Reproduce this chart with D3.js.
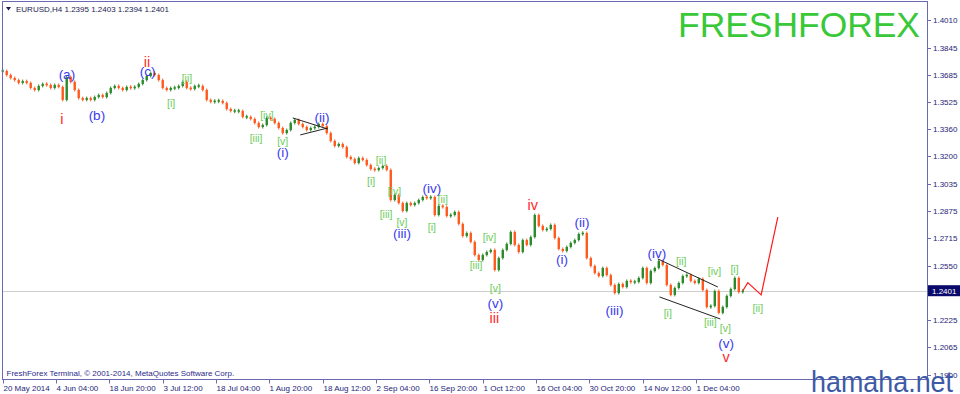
<!DOCTYPE html>
<html><head><meta charset="utf-8">
<script src="https://cdn.jsdelivr.net/npm/d3@7"></script>
<style>
html,body{margin:0;padding:0;background:#fff;}
svg{display:block;}
</style></head>
<body><svg id="c" width="960" height="394"></svg>
<script>
// ---- DATA ----
// EURUSD closes, one sample every 4.8 H4 bars
const closes = [
1.3707,1.3683,1.3665,1.3653,1.3636,1.3647,1.3636,1.3606,1.3594,1.3618,
1.3630,1.3624,1.3606,1.3624,1.3612,1.3535,1.3671,1.3642,1.3594,1.3546,
1.3535,1.3546,1.3535,1.3552,1.3564,1.3552,1.3576,1.3606,1.3618,1.3606,
1.3594,1.3612,1.3606,1.3612,1.3630,1.3653,1.3677,1.3695,1.3683,1.3653,
1.3606,1.3594,1.3606,1.3606,1.3618,1.3642,1.3606,1.3600,1.3618,1.3618,
1.3594,1.3535,1.3523,1.3529,1.3529,1.3517,1.3481,1.3469,1.3469,1.3469,
1.3434,1.3434,1.3422,1.3398,1.3374,1.3386,1.3428,1.3422,1.3398,1.3368,
1.3338,1.3356,1.3398,1.3416,1.3392,1.3374,1.3356,1.3368,1.3374,1.3392,
1.3380,1.3338,1.3291,1.3261,1.3273,1.3255,1.3196,1.3184,1.3160,1.3190,
1.3178,1.3148,1.3124,1.3119,1.3130,1.3142,1.3119,1.2940,1.2970,1.2922,
1.2875,1.2922,1.2910,1.2922,1.2940,1.2958,1.2952,1.2958,1.2851,1.2905,
1.2899,1.2845,1.2851,1.2869,1.2798,1.2726,1.2744,1.2691,1.2613,1.2584,
1.2613,1.2631,1.2643,1.2524,1.2595,1.2643,1.2679,1.2750,1.2673,1.2631,
1.2702,1.2673,1.2720,1.2851,1.2786,1.2762,1.2768,1.2792,1.2714,1.2649,
1.2637,1.2661,1.2685,1.2702,1.2738,1.2744,1.2595,1.2548,1.2506,1.2488,
1.2536,1.2494,1.2435,1.2387,1.2441,1.2423,1.2459,1.2453,1.2453,1.2477,
1.2536,1.2447,1.2518,1.2536,1.2578,1.2554,1.2435,1.2376,1.2417,1.2447,
1.2488,1.2494,1.2459,1.2447,1.2471,1.2405,1.2304,1.2310,1.2399,1.2269,
1.2304,1.2370,1.2411,1.2477,1.2393,1.2401
];
const BAR_STEP = 4.8;            // H4 bars between samples
const timeLabels = ["20 May 2014","4 Jun 04:00","18 Jun 20:00","3 Jul 12:00","18 Jul 04:00",
  "1 Aug 20:00","18 Aug 12:00","2 Sep 04:00","16 Sep 20:00","1 Oct 12:00","16 Oct 04:00",
  "30 Oct 20:00","14 Nov 12:00","1 Dec 04:00"];
const TIME_LABEL_EVERY = 64;     // H4 bars
const priceTicks = [1.4010,1.3845,1.3685,1.3525,1.3360,1.3200,1.3035,1.2875,1.2715,1.2550,1.2385,1.2225,1.2065,1.1900];
const lastPrice = 1.2401;
const header = "EURUSD,H4  1.2395 1.2403 1.2394 1.2401";
// forecast path (bar, price)
const forecastBars = [888, 894, 910, 930];
const forecastPrices = [1.2401, 1.2449, 1.2376, 1.2839];
// trend lines [bar1, price1, bar2, price2]
const trendLines = [
  [348, 1.3428, 390, 1.3362],
  [357, 1.3327, 390, 1.3368],
  [786, 1.2590, 858, 1.2423],
  [788, 1.2364, 861, 1.2233]
];
// wave labels: [text, bar, price]
const redLabels = [["i",71,1.3422],["ii",173,1.3760],["iii",590,1.2239],["iv",636,1.2910],["v",868,1.2007]];
const blueLabels = [["(a)",77,1.3689],["(b)",113,1.3445],["(c)",174,1.3707],["(i)",336,1.3226],
  ["(ii)",383,1.3434],["(iii)",479,1.2744],["(iv)",515,1.3012],["(v)",591,1.2328],
  ["(i)",671,1.2590],["(ii)",695,1.2809],["(iii)",734,1.2286],["(iv)",785,1.2625],["(v)",868,1.2090]];
const greenLabels = [["[i]",202,1.3517],["[ii]",221,1.3665],["[iii]",304,1.3309],["[iv]",317,1.3445],
  ["[v]",336,1.3291],["[i]",442,1.3053],["[ii]",454,1.3178],["[iii]",460,1.2857],["[iv]",470,1.2994],
  ["[v]",479,1.2809],["[i]",515,1.2780],["[ii]",528,1.2946],["[iii]",568,1.2554],["[iv]",584,1.2720],
  ["[v]",591,1.2417],["[i]",798,1.2269],["[ii]",814,1.2578],["[iii]",849,1.2215],["[iv]",854,1.2518],
  ["[v]",867,1.2180],["[i]",878,1.2530],["[ii]",906,1.2298]];

// ---- DRAW ----
const svg = d3.select("#c");
const FONT = "'Liberation Sans', Arial, sans-serif";
const x = d3.scaleLinear().domain([0, 1109]).range([2.7, 927]);
const y = d3.scaleLinear().domain([1.1900, 1.4010]).range([375, 20]);
const AXIS = "#6a6ab4", TXT = "#1e1e78";

// watermark
svg.append("text").attr("x", 920).attr("y", 37).attr("text-anchor", "end")
  .attr("font-family", FONT).attr("font-size", 35).attr("fill", "#38c838")
  .attr("textLength", 242).attr("lengthAdjust", "spacingAndGlyphs").text("FRESHFOREX");

// current price line
svg.append("line").attr("x1", 2.5).attr("x2", 927).attr("y1", Math.round(y(lastPrice)) + 0.5)
  .attr("y2", Math.round(y(lastPrice)) + 0.5).attr("stroke", "#cfcfcf").attr("stroke-width", 1);

// candles
const g = svg.append("g");
closes.forEach((c, k) => {
  const o = k > 0 ? closes[k - 1] : c;
  const xc = x(k * BAR_STEP);
  let top = y(Math.max(o, c)), bot = y(Math.min(o, c));
  if (bot - top < 1.5) { const m = (top + bot) / 2; top = m - 0.75; bot = m + 0.75; }
  const col = c >= o ? "#2b8a2b" : "#ff5a1e";
  g.append("line").attr("x1", xc).attr("x2", xc).attr("y1", top - 1.5).attr("y2", bot + 1.5)
    .attr("stroke", col).attr("stroke-width", 1);
  g.append("rect").attr("x", xc - 1.2).attr("width", 2.4).attr("y", top).attr("height", bot - top)
    .attr("fill", col);
});

// trend lines
trendLines.forEach(t => {
  svg.append("line").attr("x1", x(t[0])).attr("y1", y(t[1])).attr("x2", x(t[2])).attr("y2", y(t[3]))
    .attr("stroke", "#222").attr("stroke-width", 1);
});

// forecast
svg.append("path").datum(forecastBars.map((b, i) => [b, forecastPrices[i]]))
  .attr("d", d3.line().x(d => x(d[0])).y(d => y(d[1])))
  .attr("fill", "none").attr("stroke", "#ff1a1a").attr("stroke-width", 1.2);

// labels
function labels(arr, color, size) {
  svg.append("g").selectAll("text").data(arr).join("text")
    .attr("x", d => x(d[1])).attr("y", d => y(d[2])).attr("dy", "0.35em")
    .attr("text-anchor", "middle").attr("font-family", FONT).attr("font-size", size)
    .attr("fill", color).text(d => d[0]);
}
labels(greenLabels, "#6ccc5c", 10.5);
labels(blueLabels, "#3a3af0", 13.5);
labels(redLabels, "#ff2a2a", 14.5);

// frame
svg.append("rect").attr("x", 2.5).attr("y", 1.5).attr("width", 925).attr("height", 378)
  .attr("fill", "none").attr("stroke", AXIS).attr("stroke-width", 1);

// x axis labels
timeLabels.forEach((t, i) => {
  const xx = Math.round(x(i * TIME_LABEL_EVERY)) + 0.5;
  svg.append("line").attr("x1", xx).attr("x2", xx).attr("y1", 379.5).attr("y2", 383.5)
    .attr("stroke", AXIS);
  svg.append("text").attr("x", xx).attr("y", 390.5).attr("font-family", FONT)
    .attr("font-size", 8).attr("fill", TXT).text(t);
});

// y axis labels
priceTicks.forEach(p => {
  const yy = Math.round(y(p)) + 0.5;
  svg.append("line").attr("x1", 927.5).attr("x2", 931).attr("y1", yy).attr("y2", yy).attr("stroke", AXIS);
  svg.append("text").attr("x", 933).attr("y", yy).attr("dy", "0.35em").attr("font-family", FONT)
    .attr("font-size", 8).attr("fill", TXT).text(p.toFixed(4));
});

// current price box
const ly = y(lastPrice);
svg.append("rect").attr("x", 928).attr("y", ly - 5.5).attr("width", 32).attr("height", 11).attr("fill", "#0a0a6a");
svg.append("text").attr("x", 932).attr("y", ly).attr("dy", "0.35em").attr("font-family", FONT)
  .attr("font-size", 8).attr("fill", "#fff").text(lastPrice.toFixed(4));

// header
svg.append("path").attr("d", "M6,7 L11,7 L8.5,10.5 Z").attr("fill", "#1a1a50");
svg.append("text").attr("x", 16).attr("y", 12).attr("font-family", FONT).attr("font-size", 8)
  .attr("fill", "#1a1a50").text(header);

// copyright
svg.append("text").attr("x", 6.5).attr("y", 375.5).attr("font-family", FONT).attr("font-size", 8)
  .attr("fill", "#2a2a8a").text("FreshForex Terminal, © 2001-2014, MetaQuotes Software Corp.");

// bottom-right watermark
svg.append("text").attr("x", 811).attr("y", 392).attr("font-family", FONT).attr("font-size", 29)
  .attr("fill", "#3d5aa6").attr("textLength", 142).attr("lengthAdjust", "spacingAndGlyphs").text("hamaha.net");
</script>
</body></html>
